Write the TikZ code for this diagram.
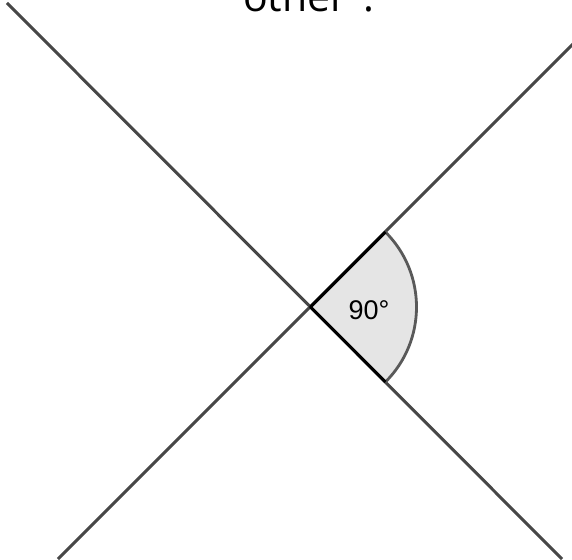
\documentclass[tikz,border=0pt]{standalone}
\usepackage{fontspec}
\setmainfont{Liberation Sans}
\newfontfamily\titlefont{Open Sans}
\begin{document}
\begin{tikzpicture}[x=1pt,y=-1pt,
  lineshape/.style={draw=black!72, line width=3pt},
  arcshape/.style={draw=black!65, line width=2.8pt}]
\useasboundingbox (0,0) rectangle (572,559);
\coordinate (O) at (310.5,307);
\coordinate (A1) at (7,3);
\coordinate (A2) at (562,559);
\coordinate (B1) at (58,559);
\coordinate (B2) at (574,43);
\draw[lineshape] (A1) -- (A2);
\draw[lineshape] (B1) -- (B2);
\fill[black!10] (O) -- ++(-45:106) arc[start angle=-45, end angle=45, radius=106] -- cycle;
\draw[arcshape] (O) ++(-45:106) arc[start angle=-45, end angle=45, radius=106];
\draw[draw=black, line width=3pt, line join=round] (O) ++(-45:106) -- (O) -- ++(45:106);
\node[font=\fontsize{27}{30}\selectfont, inner sep=0pt] (lbl) at (369,310) {90°};
\node[font=\titlefont\fontsize{41}{48}\selectfont, anchor=base west, inner sep=0pt] (title) at (243,12) {other”.};
\end{tikzpicture}
\end{document}
